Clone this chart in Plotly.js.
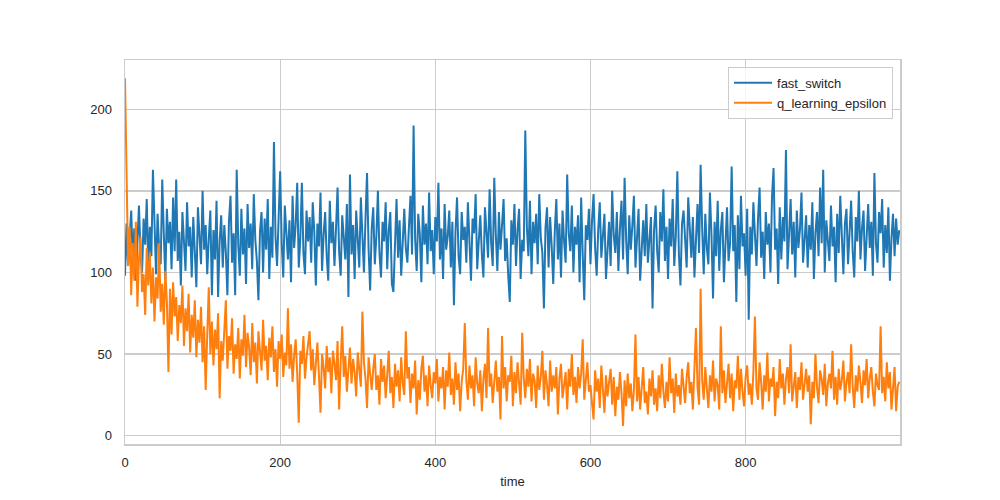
<!DOCTYPE html>
<html>
<head>
<meta charset="utf-8">
<script src="https://cdn.plot.ly/plotly-3.0.1.min.js"></script>
<style>html,body{margin:0;padding:0;background:#fff;}#chart{width:1000px;height:500px;}</style>
</head>
<body>
<div id="chart"></div>
<script>
const seriesNames = ["fast_switch", "q_learning_epsilon"];
const xTickValues = [0, 200, 400, 600, 800];
const yTickValues = [0, 50, 100, 150, 200];
const timeStep = 2;

const fast_switch = [
98,130,104,122,138,108,127,95,119,141,112,100,133,117,145,103,128,110,163,121,
99,136,115,105,157,124,96,139,118,131,102,146,113,157,107,125,92,137,120,101,
143,116,128,97,134,110,91,140,123,105,150,114,129,99,121,138,86,126,108,144,
85,119,135,103,129,112,86,131,147,106,124,86,163,117,98,139,111,127,93,142,
115,130,102,148,120,107,83,125,137,100,133,114,145,96,128,109,180,122,104,136,
162,118,97,141,126,108,132,94,147,115,129,155,103,121,155,112,99,138,119,134,
106,143,125,92,130,116,149,101,123,137,110,95,144,118,131,104,127,152,113,98,
135,120,108,142,85,160,111,129,96,138,117,103,146,124,100,133,161,114,89,127,
140,105,122,150,112,97,131,119,143,102,126,137,93,88,121,145,109,132,98,124,
139,115,106,128,147,111,190,120,101,136,124,94,141,117,130,105,149,113,126,99,
134,119,155,108,127,96,142,114,122,138,103,131,80,125,146,110,99,137,120,128,
106,143,116,95,133,124,148,102,119,135,111,97,140,126,109,151,118,104,158,123,
101,137,114,129,145,107,121,98,82,132,117,142,104,126,139,96,120,113,187,128,
110,144,99,131,118,136,105,148,121,112,78,127,140,103,134,116,93,125,145,108,
130,97,138,119,106,160,124,113,141,100,128,117,135,94,146,111,83,129,120,139,
105,132,148,115,98,126,143,109,122,136,96,118,131,104,150,123,112,137,101,127,
144,108,158,120,99,135,114,129,147,103,124,139,95,117,132,110,142,106,121,134,
78,126,141,113,100,137,119,151,107,128,96,133,116,145,104,122,162,111,92,130,
138,117,103,146,125,109,134,97,120,142,112,166,127,99,136,115,105,149,123,84,
131,110,144,101,126,137,94,121,140,107,118,165,113,129,82,135,102,147,116,124,
98,139,71,128,111,143,120,104,133,152,109,125,96,137,117,130,100,146,164,114,
127,93,140,108,134,119,175,102,123,145,111,131,97,138,115,126,149,106,120,135,
103,129,114,143,96,124,137,110,152,118,163,100,132,121,107,141,116,128,94,136,
112,147,125,99,130,139,105,122,144,113,97,134,119,150,108,127,138,101,123,142,
115,131,98,161,118,106,137,124,145,103,129,112,140,95,121,136,110,133,117,126
];

const q_learning_epsilon = [
219,150,104,128,86,118,95,131,79,108,122,88,99,74,115,92,112,81,103,70,
97,84,118,76,93,68,101,82,39,90,62,94,73,85,58,80,69,92,55,78,
64,87,51,74,60,83,48,71,57,79,45,67,28,62,91,50,70,43,65,53,
75,23,58,46,68,83,41,61,52,72,38,56,47,66,35,59,49,74,42,63,
54,37,69,45,57,32,64,50,40,71,46,55,34,60,48,67,39,53,30,58,
47,62,36,51,43,78,41,56,33,49,59,38,8,52,44,61,35,48,55,64,
40,53,31,46,57,37,14,50,42,29,55,39,48,26,52,44,34,58,16,45,
67,36,49,27,43,54,32,47,39,24,51,41,30,76,45,35,17,48,38,28,
41,50,28,37,19,47,33,43,23,39,52,26,36,17,44,30,40,21,48,32,
25,64,35,42,20,38,29,46,13,34,22,41,49,27,37,18,43,31,23,39,
32,47,21,36,29,42,16,40,30,51,25,35,19,45,28,38,15,33,41,69,
34,22,43,29,37,18,48,32,26,40,15,35,44,23,66,30,38,20,33,46,
27,36,10,61,29,42,21,37,33,49,18,39,26,45,32,19,63,35,23,41,
30,47,21,38,34,17,43,28,36,52,22,40,31,18,46,27,37,29,42,13,
35,44,23,33,39,16,41,30,50,25,36,20,42,29,38,59,22,34,45,27,
31,20,10,40,27,35,17,43,29,14,37,24,33,41,19,36,12,30,22,39,
26,6,34,18,38,23,32,15,28,62,21,36,16,30,42,20,27,13,35,24,
40,19,29,15,37,23,44,27,17,33,21,48,26,35,14,38,24,31,19,41,
28,20,36,45,26,33,16,39,66,30,19,90,34,22,42,29,17,37,27,46,
21,35,31,16,67,26,40,20,33,44,23,38,15,34,29,49,22,41,27,18,
36,43,25,32,19,39,73,29,22,45,33,16,37,27,51,21,35,30,42,12,
33,23,47,29,38,19,35,42,26,56,21,32,39,17,36,28,45,22,34,41,
27,37,7,33,23,50,30,20,40,35,25,44,18,32,38,29,52,22,36,19,
41,28,34,46,21,33,39,26,56,30,17,37,27,43,33,20,40,31,47,23,
35,42,27,18,38,31,28,67,26,36,21,45,29,39,16,33,42,15,30,33
];

const timeBlue = fast_switch.map((_, i) => i * timeStep);
const timeOrange = q_learning_epsilon.map((_, i) => i * timeStep);

const textColor = "#262626";
const gridColor = "#cccccc";
const fontFamily = "'Liberation Sans', Arial, 'DejaVu Sans', sans-serif";

const traces = [
  {x: timeBlue, y: fast_switch, type: "scatter", mode: "lines", name: seriesNames[0],
   line: {color: "#1f77b4", width: 2}},
  {x: timeOrange, y: q_learning_epsilon, type: "scatter", mode: "lines", name: seriesNames[1],
   line: {color: "#ff7f0e", width: 2}}
];

const layout = {
  width: 1000, height: 500,
  margin: {l: 125, r: 100, t: 60, b: 56, pad: 0},
  paper_bgcolor: "#ffffff", plot_bgcolor: "#ffffff",
  font: {family: fontFamily, size: 13, color: textColor},
  showlegend: true,
  legend: {
    x: 0.991, y: 0.982, xanchor: "right", yanchor: "top",
    bgcolor: "rgba(255,255,255,0.8)", bordercolor: gridColor, borderwidth: 1,
    font: {family: fontFamily, size: 13, color: textColor},
    tracegroupgap: 0, itemwidth: 38
  },
  xaxis: {
    range: [0, 999], tickvals: xTickValues, ticktext: xTickValues.map(String),
    showgrid: true, gridcolor: gridColor, gridwidth: 1.3,
    zeroline: false, showline: true, mirror: true, linecolor: gridColor, linewidth: 1.5,
    ticks: "", ticklabelstandoff: 6,
    tickfont: {family: fontFamily, size: 13, color: textColor},
    title: {text: "time", font: {family: fontFamily, size: 13, color: textColor}, standoff: 8}
  },
  yaxis: {
    range: [-5.1, 230.2], tickvals: yTickValues, ticktext: yTickValues.map(String),
    showgrid: true, gridcolor: gridColor, gridwidth: 1.3,
    zeroline: false, showline: true, mirror: true, linecolor: gridColor, linewidth: 1.5,
    ticks: "", ticklabelstandoff: 9,
    tickfont: {family: fontFamily, size: 13, color: textColor}
  }
};

Plotly.newPlot("chart", traces, layout, {displayModeBar: false, staticPlot: true});
</script>
</body>
</html>
